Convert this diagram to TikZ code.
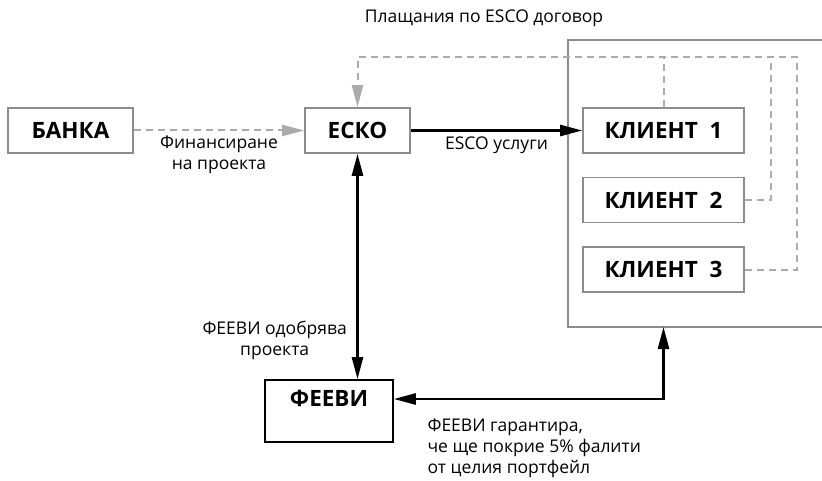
\documentclass[tikz,border=0pt]{standalone}
\usepackage{fontspec}
\setmainfont[Language=Bulgarian]{Open Sans}
\usepackage{xcolor}
\usetikzlibrary{arrows.meta,positioning}
\definecolor{boxgray}{HTML}{8C8C8C}
\definecolor{paygray}{HTML}{ABABAB}

\begin{document}
\begin{tikzpicture}[x=1pt,y=-1pt,node distance=23pt,>={Triangle[length=22pt,width=11pt]},
    box/.style={draw=boxgray,line width=1.6pt,minimum height=45pt,inner sep=0pt,font=\fontsize{22.5}{26}\selectfont\bfseries},
    pay/.style={draw=paygray,line width=2pt,dash pattern=on 7pt off 5pt},
    flow/.style={draw=black,line width=2.6pt},
    lbl/.style={font=\fontsize{17.5}{21}\selectfont}]
        \useasboundingbox (0,0) rectangle (822,481);
        % group of clients
        \draw[boxgray,line width=1.6pt] (568,40) rectangle (830,327);
        \coordinate (grupa) at (663.5,327);
        \node[box,minimum width=125pt] (banka) at (70.5,130.5) {БАНКА};
        \node[box,minimum width=105pt] (esko) at (357.5,130.5) {ЕСКО};
        \node[box,minimum width=161pt] (klient1) at (663.5,130.5) {КЛИЕНТ\ \ 1};
        \node[box,minimum width=161pt,below=of klient1] (klient2) {КЛИЕНТ\ \ 2};
        \node[box,minimum width=161pt,below=of klient2] (klient3) {КЛИЕНТ\ \ 3};
        \node[box,draw=black,minimum width=128pt,minimum height=62pt,text height=16pt,text depth=26pt] (feevi) at (329,411) {ФЕЕВИ};
        % flows
        \draw[pay,->,paygray] (banka) -- node[lbl,below=1pt,align=center,text=black]{Финансиране\\на\ проекта} (esko);
        \draw[flow,->] (esko) -- node[lbl,below=2pt]{ESCO\ услуги} (klient1);
        \draw[flow,<->] (esko.south) -- node[lbl,pos=0.83,left=6pt,align=center]{ФЕЕВИ\ одобрява\\проекта} (esko.south |- feevi.north);
        \coordinate (g) at ([yshift=12pt]feevi.east);
        \draw[flow,<->] (g) -| (grupa);
        \node[lbl,align=left,anchor=north west] (garancia) at (424,415) {ФЕЕВИ\ гарантира,\\че\ ще\ покрие\ 5\%\ фалити\\от\ целия\ портфейл};
        % payments
        \coordinate (plat) at (797,57);
        \draw[pay,->,paygray] (klient3.east) -| (plat) -| (esko.north);
        \draw[pay] (klient2.east) -- ++(26,0) coordinate (k2) -- (k2 |- plat);
        \draw[pay] (klient1.north) -- (klient1.north |- plat);
        \node[lbl] (plashtane) at (484,18) {Плащания\ по\ ESCO\ договор};
      \end{tikzpicture}
\end{document}
